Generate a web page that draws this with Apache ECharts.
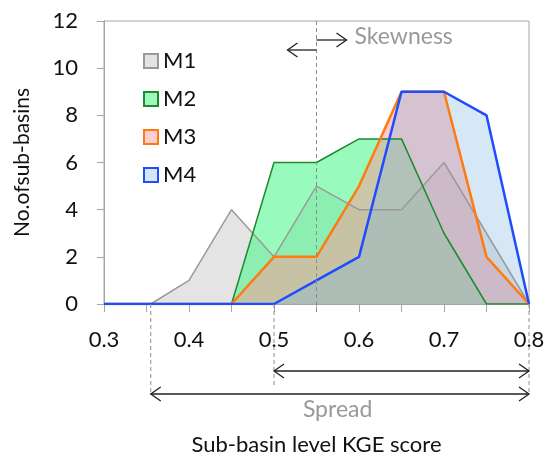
<!DOCTYPE html>
<html>
<head>
<meta charset="utf-8">
<script src="https://cdn.jsdelivr.net/npm/echarts@6/dist/echarts.min.js"></script>
<style>
    html, body { margin: 0; padding: 0; background: #fff; }
    #chart { width: 548px; height: 458px; }
</style>
</head>
<body>
<div id="chart"></div>
<script>
// KGE score bins (x) and number of sub-basins per model (y)
const kge = [0.3, 0.35, 0.4, 0.45, 0.5, 0.55, 0.6, 0.65, 0.7, 0.75, 0.8];
const m1Kge = [0.3, 0.355, 0.4, 0.45, 0.5, 0.55, 0.6, 0.65, 0.7, 0.75, 0.8];
const m1 = [0, 0, 1, 4, 2, 5, 4, 4, 6, 3, 0];
const m2 = [0, 0, 0, 0, 6, 6, 7, 7, 3, 0, 0];
const m3 = [0, 0, 0, 0, 2, 2, 5, 9, 9, 2, 0];
const m4 = [0, 0, 0, 0, 0, 1, 2, 9, 9, 8, 0];
const names = ['M1', 'M2', 'M3', 'M4'];

// annotation positions (in KGE units)
const skewRef = 0.55;
const spreadAll = [0.355, 0.8];
const spreadM4 = [0.5, 0.8];

const font = 'Lato, "Open Sans", sans-serif';

function pairs(xs, ys) {
    return xs.map(function (x, i) { return [x, ys[i]]; });
}

function area(name, xs, ys, fill) {
    return {
        name: name, type: 'line', data: pairs(xs, ys), symbol: 'none',
        lineStyle: { width: 0 },
        areaStyle: { color: fill, opacity: 1 },
        emphasis: { disabled: true }
    };
}
function line(name, xs, ys, color, width) {
    return {
        name: name, type: 'line', data: pairs(xs, ys), symbol: 'none',
        lineStyle: { color: color, width: width },
        itemStyle: { color: color },
        emphasis: { disabled: true }
    };
}

const chart = echarts.init(document.getElementById('chart'));
chart.setOption({
    animation: false,
    textStyle: { fontFamily: font },
    grid: {
        left: 104, right: 19, top: 21, bottom: 154,
        outerBoundsMode: 'none',
        show: true, borderColor: '#a6a6a6', borderWidth: 1
    },
    legend: {
        orient: 'vertical',
        left: 138, top: 45,
        itemWidth: 14, itemHeight: 14, itemGap: 16,
        icon: 'rect',
        textStyle: { fontSize: 22, color: '#111', fontFamily: font },
        data: [
            { name: 'M1', itemStyle: { color: '#e3e3e3', borderColor: '#999', borderWidth: 2 } },
            { name: 'M2', itemStyle: { color: '#9ef7bb', borderColor: '#1d8a2c', borderWidth: 2 } },
            { name: 'M3', itemStyle: { color: '#fbcfcf', borderColor: '#ff7a10', borderWidth: 2 } },
            { name: 'M4', itemStyle: { color: '#d5e6f6', borderColor: '#1f4cff', borderWidth: 2 } }
        ]
    },
    xAxis: {
        type: 'value',
        min: 0.3, max: 0.8, interval: 0.05,
        name: 'Sub-basin level KGE score',
        nameLocation: 'middle', nameGap: 130,
        nameTextStyle: { fontSize: 22, color: '#111', fontFamily: font },
        axisLine: { lineStyle: { color: '#a6a6a6' } },
        axisTick: { length: 8, lineStyle: { color: '#a6a6a6' } },
        splitLine: { show: false },
        axisLabel: {
            margin: 25, fontSize: 22, color: '#111',
            formatter: function (v) {
                return Math.round(v * 100) % 10 === 0 ? v.toFixed(1) : '';
            }
        }
    },
    yAxis: {
        type: 'value',
        min: 0, max: 12, interval: 2,
        name: 'No.ofsub-basins',
        nameLocation: 'middle', nameGap: 71,
        nameTextStyle: { fontSize: 21, color: '#111', fontFamily: font },
        axisLine: { show: true, lineStyle: { color: '#a6a6a6' } },
        axisTick: { show: true, length: 7, lineStyle: { color: '#a6a6a6' } },
        splitLine: { show: false },
        axisLabel: { margin: 26, fontSize: 22, color: '#111' }
    },
    series: [
        area(names[0], m1Kge, m1, 'rgba(210,210,210,0.6)'),
        line(names[0], m1Kge, m1, '#9a9a9a', 1.5),
        area(names[1], kge, m2, 'rgba(70,245,135,0.55)'),
        line(names[1], kge, m2, '#1d8a2c', 1.5),
        area(names[2], kge, m3, 'rgba(255,150,150,0.5)'),
        line(names[2], kge, m3, '#ff7a10', 2.5),
        area(names[3], kge, m4, 'rgba(118,178,225,0.3)'),
        line(names[3], kge, m4, '#1f4cff', 2.5)
    ]
});

// annotations placed through the axes
function px(x, y) { return chart.convertToPixel({ gridIndex: 0 }, [x, y]); }

const base = px(0.3, 0)[1];
const plotTop = px(0.3, 12)[1];
const ink = '#222';
const dash = { stroke: '#8c8c8c', lineWidth: 1, lineDash: [4, 3] };

function vdash(x, y1, y2) {
    return { type: 'line', z: 50, shape: { x1: x, y1: y1, x2: x, y2: y2 }, style: dash };
}
function head(x, y, dir) {
    return {
        type: 'polyline', z: 60,
        shape: { points: [[x - dir * 10, y - 7], [x, y], [x - dir * 10, y + 7]] },
        style: { stroke: ink, lineWidth: 1.3, fill: null }
    };
}
function hline(x1, x2, y) {
    return { type: 'line', z: 60, shape: { x1: x1, y1: y, x2: x2, y2: y }, style: { stroke: ink, lineWidth: 1.3 } };
}

const xs = px(skewRef, 0)[0];
const xa = px(spreadAll[0], 0)[0];
const xb = px(spreadAll[1], 0)[0];
const xc = px(spreadM4[0], 0)[0];
const yUp = base + 67;
const yLow = base + 90;

const graphic = [
    vdash(xs, plotTop, base + 8),
    vdash(xa, base, yLow),
    vdash(xc, base, yUp + 16),
    vdash(xb, base, yLow),
    // spread arrows
    hline(xc, xb, yUp), head(xc, yUp, -1), head(xb, yUp, 1),
    hline(xa, xb, yLow), head(xa, yLow, -1), head(xb, yLow, 1),
    // skewness arrows
    hline(xs - 29, xs, plotTop + 29), head(xs - 29, plotTop + 29, -1),
    hline(xs, xs + 30, plotTop + 19), head(xs + 30, plotTop + 19, 1),
    {
        type: 'text', z: 60, x: xs + 38, y: plotTop + 4,
        style: { text: 'Skewness', fill: '#999', font: '23px ' + font }
    },
    {
        type: 'text', z: 60, x: (xa + xb) / 2 - 37, y: yLow + 4,
        style: { text: 'Spread', fill: '#999', font: '23px ' + font }
    }
];
chart.setOption({ graphic: graphic });
</script>
</body>
</html>
